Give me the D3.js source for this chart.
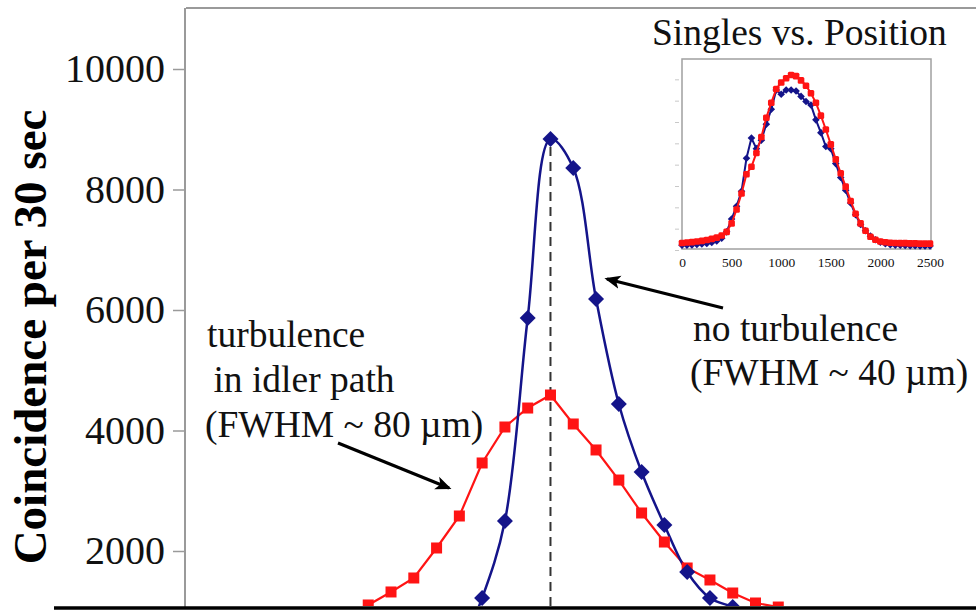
<!DOCTYPE html>
<html><head><meta charset="utf-8">
<script src="https://cdn.jsdelivr.net/npm/d3@7"></script>
<style>body{margin:0;background:#fff}svg{display:block}</style>
</head><body>
<script>
// ---- main chart data (position in µm relative to centre, coincidences per 30 s)
const redPositions  = [-90,-80,-70,-60,-50,-40,-30,-20,-10,0,10,20,30,40,50,60,70,80,90,100,110];
const redValues     = [880,1104,1320,1552,2050,2581,3461,4058,4373,4589,4108,3677,3178,2631,2149,1718,1519,1303,1137,1070,950];
const bluePositions = [-40,-30,-20,-10,0,10,20,30,40,50,60,70,80,90];
const blueValues    = [350,1220,2498,5867,8838,8357,6183,4440,3311,2432,1651,1220,1070,900];
const yTickValues   = [2000,4000,6000,8000,10000];
const peakPosition  = 0;

// ---- inset data (singles vs position)
const insetPositions = [0,50,100,150,200,250,300,350,400,450,500,550,600,650,700,750,800,850,900,950,1000,1050,1100,1150,1200,1250,1300,1350,1400,1450,1500,1550,1600,1650,1700,1750,1800,1850,1900,1950,2000,2050,2100,2150,2200,2250,2300,2350,2400,2450,2500];
const insetRed  = [0.33,0.35,0.37,0.40,0.43,0.47,0.52,0.58,0.68,0.85,1.25,1.90,2.65,3.55,3.90,4.55,5.30,6.20,6.90,7.55,7.85,8.05,8.20,8.15,7.95,7.70,7.35,6.90,6.30,5.65,4.95,4.25,3.60,2.97,2.30,1.70,1.25,0.90,0.62,0.48,0.40,0.36,0.34,0.33,0.32,0.32,0.31,0.31,0.30,0.30,0.30];
const insetBlue = [0.22,0.23,0.24,0.26,0.28,0.31,0.35,0.42,0.55,0.85,1.45,2.05,2.75,4.30,5.25,4.75,5.15,5.90,6.60,7.50,7.30,7.50,7.50,7.45,7.20,6.96,6.80,6.10,5.50,4.85,4.75,4.05,3.40,2.80,2.20,1.65,1.20,0.90,0.65,0.48,0.36,0.29,0.25,0.23,0.22,0.21,0.20,0.20,0.19,0.19,0.19];
const insetXTicks = [0,500,1000,1500,2000,2500];
const insetYTicks = [0,1,2,3,4,5,6,7,8];

const W = 976, H = 610;
const svg = d3.select("body").append("svg").attr("width", W).attr("height", H);
const serif = "'Liberation Serif','Times New Roman',serif";
const BLUE = "#14148a", RED = "#ff1414";

const x = d3.scaleLinear().domain([-160, 190]).range([186, 186 + 350 * 2.278]);
const y = d3.scaleLinear().domain([0, 10000]).range([671.5, 69]);

// arrow marker
const defs = svg.append("defs");
defs.append("marker").attr("id","arr").attr("viewBox","0 0 12 10")
  .attr("refX",10).attr("refY",5).attr("markerWidth",5).attr("markerHeight",5)
  .attr("orient","auto").attr("markerUnits","strokeWidth")
  .append("path").attr("d","M0,0 L12,5 L0,10 L3,5 Z").attr("fill","#000");
defs.append("clipPath").attr("id","plotClip").append("rect")
  .attr("x",186).attr("y",8).attr("width",W-186).attr("height",598);

// frame
svg.append("line").attr("x1",186).attr("x2",W).attr("y1",8).attr("y2",8)
  .attr("stroke","#9a9a9a").attr("stroke-width",2);
svg.append("line").attr("x1",185).attr("x2",185).attr("y1",8).attr("y2",607)
  .attr("stroke","#9a9a9a").attr("stroke-width",2);

// y axis
const yAxis = d3.axisLeft(y).tickValues(yTickValues).tickSize(12).tickPadding(8).tickFormat(d3.format("d"));
const ga = svg.append("g").attr("transform","translate(185,0)").call(yAxis);
ga.select(".domain").remove();
ga.selectAll(".tick line").attr("stroke","#9a9a9a").attr("stroke-width",1.5);
ga.selectAll(".tick text").attr("font-family",serif).attr("font-size",40).attr("fill","#111").attr("x",-20);

// y title
svg.append("text").attr("transform","translate(30,337) rotate(-90)")
  .attr("text-anchor","middle").attr("dominant-baseline","central")
  .attr("font-family",serif).attr("font-weight","bold").attr("font-size",47).attr("fill","#000")
  .text("Coincidence per 30 sec");

const plot = svg.append("g").attr("clip-path","url(#plotClip)");

// dashed centre line
plot.append("line").attr("x1",x(peakPosition)).attr("x2",x(peakPosition))
  .attr("y1",y(blueValues[bluePositions.indexOf(peakPosition)]) + 8).attr("y2",606)
  .attr("stroke","#333").attr("stroke-width",2).attr("stroke-dasharray","9,6");

// series
const redData = redPositions.map((p,i)=>({p, v: redValues[i]}));
const blueData = bluePositions.map((p,i)=>({p, v: blueValues[i]}));
plot.append("path").datum(redData)
  .attr("d", d3.line().x(d=>x(d.p)).y(d=>y(d.v)).curve(d3.curveLinear))
  .attr("fill","none").attr("stroke",RED).attr("stroke-width",2.2);
plot.append("path").datum(blueData)
  .attr("d", d3.line().x(d=>x(d.p)).y(d=>y(d.v)).curve(d3.curveCatmullRom.alpha(0.5)))
  .attr("fill","none").attr("stroke",BLUE).attr("stroke-width",2.5);

plot.selectAll("rect.rm").data(redData).join("rect").attr("class","rm")
  .attr("x",d=>x(d.p)-5.5).attr("y",d=>y(d.v)-5.5).attr("width",11).attr("height",11).attr("fill",RED);
plot.selectAll("path.bm").data(blueData).join("path").attr("class","bm")
  .attr("transform",d=>`translate(${x(d.p)},${y(d.v)})`)
  .attr("d","M0,-8 L8,0 L0,8 L-8,0 Z").attr("fill",BLUE);

// bottom black line
svg.append("line").attr("x1",54).attr("x2",W).attr("y1",608).attr("y2",608)
  .attr("stroke","#000").attr("stroke-width",3.5);

// annotations
const ann = (t, ax, ay) => svg.append("text").attr("x",ax).attr("y",ay)
  .attr("font-family",serif).attr("font-size",37.5).attr("fill","#111").text(t);
ann("turbulence", 207, 347);
ann(" in idler path", 204, 392).attr("xml:space","preserve").style("white-space","pre");
ann("(FWHM ~ 80 \u00b5m)", 205, 437);
ann("no turbulence", 693, 341);
ann("(FWHM ~ 40 \u00b5m)", 690, 385);

svg.append("line").attr("x1",723).attr("y1",308).attr("x2",607).attr("y2",279)
  .attr("stroke","#000").attr("stroke-width",3.2).attr("marker-end","url(#arr)");
svg.append("line").attr("x1",338).attr("y1",443).attr("x2",449).attr("y2",488)
  .attr("stroke","#000").attr("stroke-width",3.2).attr("marker-end","url(#arr)");

// ---- inset
const ix = d3.scaleLinear().domain([0,2500]).range([682,930]);
const iy = d3.scaleLinear().domain([0,9]).range([250,58]);
svg.append("text").attr("x",652).attr("y",45).attr("font-family",serif).attr("font-size",37.5)
  .attr("fill","#111").text("Singles vs. Position");
svg.append("rect").attr("x",682).attr("y",59).attr("width",249).attr("height",190)
  .attr("fill","#fff").attr("stroke","#a0a0a0").attr("stroke-width",1.5);

const ixAxis = d3.axisBottom(ix).tickValues(insetXTicks).tickSize(0).tickPadding(6).tickFormat(d3.format("d"));
const gix = svg.append("g").attr("transform","translate(0,251)").call(ixAxis);
gix.select(".domain").remove();
gix.selectAll(".tick text").attr("font-family",serif).attr("font-size",13.5).attr("fill","#111");

const iyAxis = d3.axisLeft(iy).tickValues(insetYTicks).tickSize(4).tickFormat("");
const giy = svg.append("g").attr("transform","translate(679,0)").call(iyAxis);
giy.select(".domain").remove();
giy.selectAll(".tick line").attr("stroke","#c8c8c8").attr("stroke-width",1);

const iRed = insetPositions.map((p,i)=>({p, v: insetRed[i]}));
const iBlue = insetPositions.map((p,i)=>({p, v: insetBlue[i]}));
const ig = svg.append("g");
ig.append("path").datum(iBlue).attr("d", d3.line().x(d=>ix(d.p)).y(d=>iy(d.v)))
  .attr("fill","none").attr("stroke",BLUE).attr("stroke-width",2);
ig.selectAll("path.ibm").data(iBlue).join("path").attr("class","ibm")
  .attr("transform",d=>`translate(${ix(d.p)},${iy(d.v)})`)
  .attr("d","M0,-3.8 L3.8,0 L0,3.8 L-3.8,0 Z").attr("fill",BLUE);
ig.append("path").datum(iRed).attr("d", d3.line().x(d=>ix(d.p)).y(d=>iy(d.v)))
  .attr("fill","none").attr("stroke",RED).attr("stroke-width",2);
ig.selectAll("rect.irm").data(iRed).join("rect").attr("class","irm")
  .attr("x",d=>ix(d.p)-3.3).attr("y",d=>iy(d.v)-3.3).attr("width",6.6).attr("height",6.6)
  .attr("rx",1.5).attr("fill",RED);
</script>
</body></html>
